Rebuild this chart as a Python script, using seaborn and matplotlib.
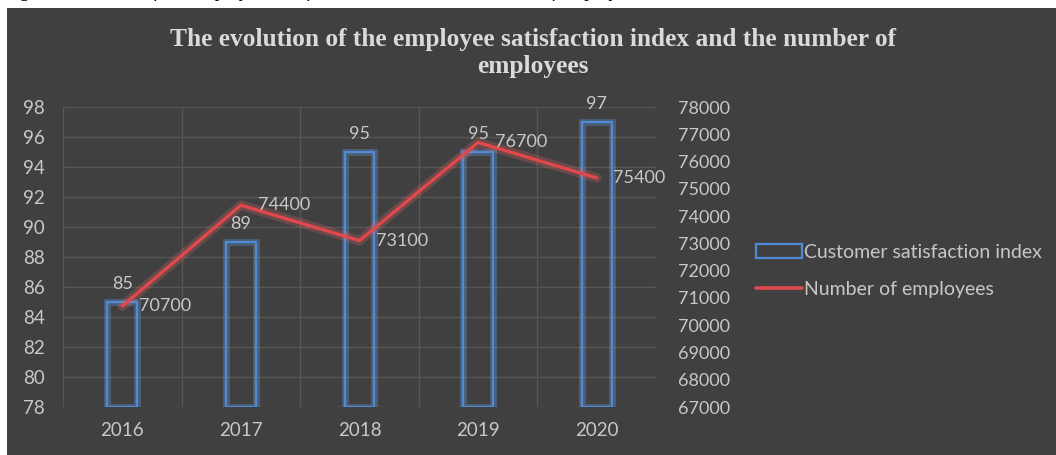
import numpy as np
import pandas as pd
import matplotlib
matplotlib.use("Agg")
import matplotlib.pyplot as plt
import matplotlib.patheffects as pe
from matplotlib.patches import Rectangle
from matplotlib.lines import Line2D
import seaborn as sns

years = ["2016", "2017", "2018", "2019", "2020"]
satisfaction = [85, 89, 95, 95, 97]
employees = [70700, 74400, 73100, 76700, 75400]
left_ticks = [78, 80, 82, 84, 86, 88, 90, 92, 94, 96, 98]
right_ticks = [67000, 68000, 69000, 70000, 71000, 72000, 73000, 74000, 75000, 76000, 77000, 78000]

BG = "#404040"
GRID = "#565656"
TXT = "#c8c8c8"
BLUE = "#4f8ad6"
RED = "#e0484c"

sns.set_theme(style="dark")
plt.rcParams["font.family"] = ["Lato", "DejaVu Sans"]

fig = plt.figure(figsize=(10.56, 4.55), dpi=100, facecolor="white")
fig.patches.append(Rectangle((7 / 1056, 0), 1, 1 - 8 / 455, transform=fig.transFigure,
                             facecolor=BG, edgecolor="none", zorder=-10))

# caption of the figure, sitting above the chart panel
fig.text(0.004, 1 + 3 / 455, "Figure 3: Volume of the employee satisfaction relative to the number of employees",
         family="Liberation Serif", style="italic", fontsize=14, color="black",
         ha="left", va="baseline")

ax = fig.add_axes([63 / 1056, 1 - 407 / 455, 593 / 1056, 300 / 455])
ax.set_facecolor(BG)
df = pd.DataFrame({"year": years, "satisfaction": satisfaction})
sns.barplot(data=df, x="year", y="satisfaction", ax=ax, width=0.25,
            fill=False, color=BLUE, linewidth=1.6, edgecolor=BLUE, zorder=3)
base = left_ticks[0]
glow_bar = [pe.Stroke(linewidth=5, foreground="#6aa6f0", alpha=0.30), pe.Normal()]
for p, v in zip(ax.patches, satisfaction):
    p.set_y(base)
    p.set_height(v - base)
    p.set_path_effects(glow_bar)
    p.set_edgecolor(BLUE)
    ax.annotate(str(v), (p.get_x() + p.get_width() / 2, v), xytext=(0, 7),
                textcoords="offset points", ha="center", va="bottom",
                fontsize=13, color=TXT, zorder=6)

ax.set_ylim(left_ticks[0], left_ticks[-1])
ax.set_xlim(-0.5, len(years) - 0.5)
ax.set_yticks(left_ticks)
ax.set_xlabel("")
ax.set_ylabel("")
for s in ax.spines.values():
    s.set_visible(False)
ax.tick_params(axis="y", length=0, pad=13, labelsize=13.5, labelcolor=TXT)
ax.tick_params(axis="x", length=0, pad=11, labelsize=13.5, labelcolor=TXT)
ax.grid(False)
for t in left_ticks:
    ax.axhline(t, color=GRID, lw=1.0, zorder=1)
for b in np.arange(-0.5, len(years), 1.0):
    ax.axvline(b, color=GRID, lw=1.0, zorder=1)

ax2 = ax.twinx()
sns.lineplot(x=np.arange(len(years)), y=employees, ax=ax2, color=RED, linewidth=2.4,
             zorder=5, path_effects=[pe.Stroke(linewidth=7, foreground="#ff6a6a", alpha=0.22), pe.Normal()])
ax2.set_ylim(right_ticks[0], right_ticks[-1])
ax2.set_yticks(right_ticks)
ax2.set_yticklabels([str(t) for t in right_ticks])
for s in ax2.spines.values():
    s.set_visible(False)
ax2.tick_params(axis="y", length=0, pad=16, labelsize=13, labelcolor=TXT)
ax2.grid(False)
ax2.set_ylabel("")
for i, v in enumerate(employees):
    ax2.annotate(str(v), (i, v), xytext=(12, 0), textcoords="offset points",
                 ha="left", va="center", fontsize=13, color=TXT, zorder=6)

fig.text(0.505, 1 - 53 / 455,
         "The evolution of the employee satisfaction index and the number of\nemployees",
         family="Liberation Serif", fontweight="bold", fontsize=18.3, color="#dadada",
         ha="center", va="center", linespacing=1.2)

handles = [Rectangle((0, 0), 1, 1, facecolor="none", edgecolor=BLUE, linewidth=1.6),
           Line2D([0], [0], color=RED, linewidth=2.6)]
leg = fig.legend(handles, ["Customer satisfaction index", "Number of employees"],
                 loc="center left", bbox_to_anchor=(738 / 1056, 1 - 271 / 455),
                 frameon=False, fontsize=14, labelcolor=TXT, handlelength=2.4,
                 handletextpad=0.1, labelspacing=1.05)

fig.savefig("out.png", dpi=100, facecolor="white")
